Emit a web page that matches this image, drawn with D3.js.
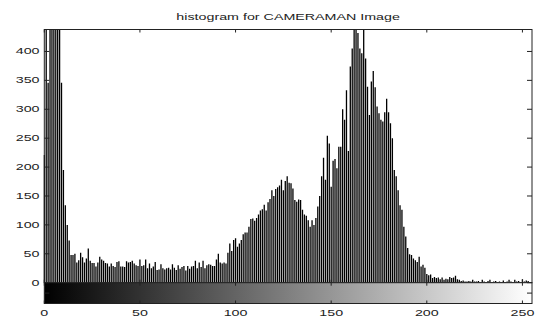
<!DOCTYPE html>
<html>
<head>
<meta charset="utf-8">
<script src="https://cdn.jsdelivr.net/npm/d3@7"></script>
<style>
  html, body { margin: 0; padding: 0; background: #fff; }
  svg { display: block; font-family: "Liberation Sans", Arial, sans-serif; }
</style>
</head>
<body>
<svg id="chart" width="537" height="316"></svg>
<script>
// imhist-style histogram of the cameraman image, one count per gray level 0..255
const title = 'histogram for CAMERAMAN Image';
const levels = d3.range(256);
// counts (bins 1,3-8,162,163,167 run off the top of the axes)
const counts = [
  221, 620, 346, 880, 1150, 1380, 1620, 1490, 960, 346,
  195, 134, 100, 73, 48, 48, 50, 35, 39, 52,
  44, 35, 42, 59, 38, 34, 34, 28, 35, 45,
  40, 38, 34, 33, 28, 33, 29, 27, 36, 37,
  28, 28, 27, 37, 35, 36, 38, 33, 30, 29,
  40, 29, 30, 40, 25, 33, 25, 28, 36, 22,
  23, 32, 25, 23, 25, 26, 23, 32, 26, 22,
  30, 24, 27, 29, 21, 29, 24, 28, 29, 38,
  25, 35, 27, 38, 25, 30, 32, 31, 29, 29,
  40, 50, 35, 33, 35, 33, 52, 68, 55, 74,
  77, 62, 68, 74, 84, 87, 87, 97, 110, 111,
  107, 112, 118, 125, 127, 135, 125, 139, 145, 160,
  150, 162, 165, 168, 178, 160, 176, 184, 173, 172,
  163, 143, 140, 144, 143, 126, 118, 116, 108, 97,
  108, 100, 112, 132, 150, 184, 216, 178, 254, 241,
  166, 211, 214, 198, 235, 235, 300, 282, 333, 228,
  374, 405, 470, 460, 432, 405, 397, 455, 388, 339,
  290, 348, 366, 338, 305, 293, 282, 279, 295, 318,
  295, 276, 250, 195, 184, 160, 134, 126, 97, 80,
  60, 49, 48, 42, 39, 36, 45, 28, 31, 26,
  15, 13, 14, 8, 10, 8, 9, 6, 9, 5,
  7, 6, 10, 8, 9, 12, 6, 5, 3, 4,
  2, 2, 3, 2, 5, 2, 2, 3, 1, 5,
  2, 1, 3, 5, 1, 2, 3, 1, 2, 1,
  4, 1, 2, 5, 2, 1, 5, 2, 3, 1,
  6, 2, 4, 3, 0, 0
];
const xTicks = [0, 50, 100, 150, 200, 250];
const yTicks = [0, 50, 100, 150, 200, 250, 300, 350, 400];
const yMax = 438;

(function(){
  const svg = d3.select('#chart');
  const left = 44.3, right = 532, top = 29.5, zero = 282.7, barBottom = 303.5;
  const stretch = 1.7, fs = 8.4, ink = '#222';

  const x = d3.scaleLinear().domain([0, 255]).range([left, right]);
  const y = d3.scaleLinear().domain([0, yMax]).range([zero, top]);

  const defs = svg.append('defs');
  defs.append('clipPath').attr('id', 'plot')
    .append('rect').attr('x', left - 1).attr('y', top).attr('width', right - left + 2).attr('height', zero - top);

  // gray ramp under the histogram
  const grad = defs.append('linearGradient').attr('id', 'ramp');
  grad.append('stop').attr('offset', '0%').attr('stop-color', '#000');
  grad.append('stop').attr('offset', '100%').attr('stop-color', '#fff');

  // stems
  svg.append('g').attr('clip-path', 'url(#plot)')
    .selectAll('line').data(levels).join('line')
    .attr('x1', d => x(d)).attr('x2', d => x(d))
    .attr('y1', y(0)).attr('y2', d => y(counts[d]))
    .attr('stroke', '#000').attr('stroke-width', 1.3);

  // axes box
  svg.append('rect').attr('x', left).attr('y', top).attr('width', right - left).attr('height', zero - top)
    .attr('fill', 'none').attr('stroke', ink).attr('stroke-width', 1);

  // colorbar
  svg.append('rect').attr('x', left).attr('y', zero).attr('width', right - left).attr('height', barBottom - zero)
    .attr('fill', 'url(#ramp)').attr('stroke', ink).attr('stroke-width', 1);

  // y ticks both sides
  const tk = svg.append('g').attr('stroke', ink).attr('stroke-width', 1);
  yTicks.forEach(v => {
    tk.append('line').attr('x1', left).attr('x2', left + 5).attr('y1', y(v)).attr('y2', y(v));
    tk.append('line').attr('x1', right - 5).attr('x2', right).attr('y1', y(v)).attr('y2', y(v));
  });
  const mid = (zero + barBottom) / 2;
  tk.append('line').attr('x1', left).attr('x2', left + 5).attr('y1', mid).attr('y2', mid);
  tk.append('line').attr('x1', right - 5).attr('x2', right).attr('y1', mid).attr('y2', mid);

  // x ticks: top of axes, bottom of axes, both edges of colorbar
  xTicks.forEach(v => {
    const px = x(v);
    [[top, top + 3], [zero - 3, zero], [zero, zero + 3], [barBottom - 3, barBottom]].forEach(s => {
      tk.append('line').attr('x1', px).attr('x2', px).attr('y1', s[0]).attr('y2', s[1]);
    });
  });

  function label(txt, px, py, anchor){
    svg.append('text')
      .attr('transform', 'translate(' + px + ',' + py + ') scale(' + stretch + ',1)')
      .attr('text-anchor', anchor)
      .attr('font-size', fs).attr('fill', ink)
      .text(txt);
  }

  yTicks.forEach(v => label(String(v), 39.5, y(v) + 3, 'end'));
  xTicks.forEach(v => label(String(v), x(v), 315.5, 'middle'));
  label(title, (left + right) / 2, 20, 'middle');
})();
</script>
</body>
</html>
